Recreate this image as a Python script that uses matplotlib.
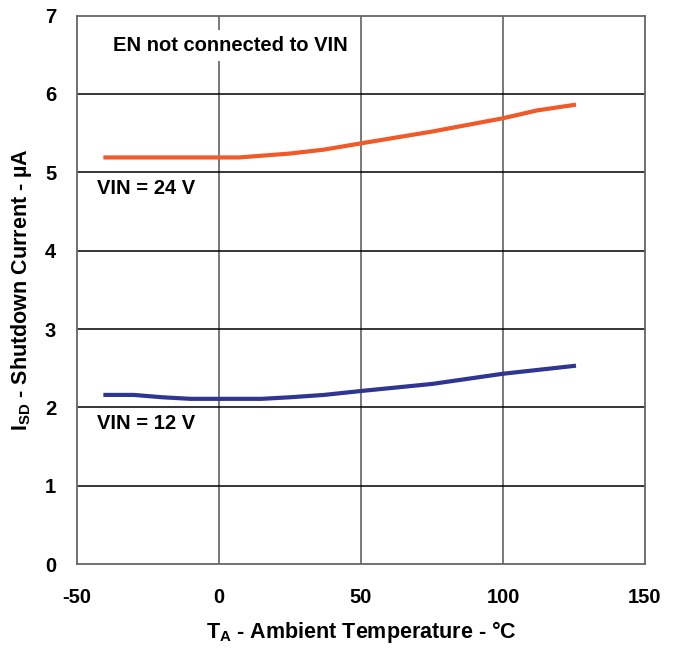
import matplotlib.pyplot as plt

plt.rcParams["font.family"] = ["Liberation Sans", "DejaVu Sans"]
plt.rcParams["font.weight"] = "bold"
plt.rcParams["axes.unicode_minus"] = False
plt.rcParams["mathtext.fontset"] = "custom"
plt.rcParams["mathtext.rm"] = "Liberation Sans:bold"
plt.rcParams["mathtext.it"] = "Liberation Sans:bold"
plt.rcParams["mathtext.bf"] = "Liberation Sans:bold"

# Shutdown current vs temperature
temp_24 = [-40, -20, 0, 7, 25, 37, 50, 75, 100, 112, 125]
isd_24 = [5.19, 5.19, 5.19, 5.19, 5.24, 5.29, 5.37, 5.52, 5.69, 5.79, 5.86]

temp_12 = [-40, -30, -20, -10, 0, 15, 25, 37, 50, 75, 100, 125]
isd_12 = [2.16, 2.16, 2.13, 2.11, 2.11, 2.11, 2.13, 2.16, 2.21, 2.30, 2.43, 2.53]

x_ticks = [-50, 0, 50, 100, 150]
y_ticks = [0, 1, 2, 3, 4, 5, 6, 7]

fig, ax = plt.subplots(figsize=(6.76, 6.5), dpi=100)
fig.subplots_adjust(left=0.114, right=0.954, top=0.976, bottom=0.132)

ax.set_xlim(-50, 150)
ax.set_ylim(0, 7)
ax.set_xticks(x_ticks)
ax.set_yticks(y_ticks)
ax.tick_params(length=0, labelsize=14.5)
ax.tick_params(axis="x", pad=17)
ax.tick_params(axis="y", pad=15)
for lab in ax.get_xticklabels() + ax.get_yticklabels():
    lab.set_fontweight("bold")

for x in x_ticks[1:-1]:
    ax.axvline(x, color="#555555", lw=1.1, zorder=1)
for y in y_ticks[1:-1]:
    ax.axhline(y, color="black", lw=1.1, zorder=1)
for s in ax.spines.values():
    s.set_color("#666666")
    s.set_linewidth(1.3)

ax.plot(temp_24, isd_24, color="#F05A28", lw=3, zorder=3)
ax.plot(temp_12, isd_12, color="#2E3592", lw=3, zorder=3)

box = dict(facecolor="white", edgecolor="none", pad=4)
ax.text(4, 6.62, "EN not connected to VIN", fontsize=14.5, fontweight="bold",
        ha="center", va="center", bbox=box, zorder=4)
ax.text(-43, 4.8, "VIN = 24 V", fontsize=14.5, fontweight="bold",
        ha="left", va="center", bbox=box, zorder=4)
ax.text(-43, 1.8, "VIN = 12 V", fontsize=14.5, fontweight="bold",
        ha="left", va="center", bbox=box, zorder=4)

ax.set_xlabel(r"T$_\mathregular{A}$ - Ambient Temperature - °C",
              fontsize=15.5, fontweight="bold", labelpad=9)
ax.set_ylabel(r"I$_\mathregular{SD}$ - Shutdown Current - µA",
              fontsize=15.5, fontweight="bold", labelpad=8)

plt.savefig("out.png", dpi=100)
